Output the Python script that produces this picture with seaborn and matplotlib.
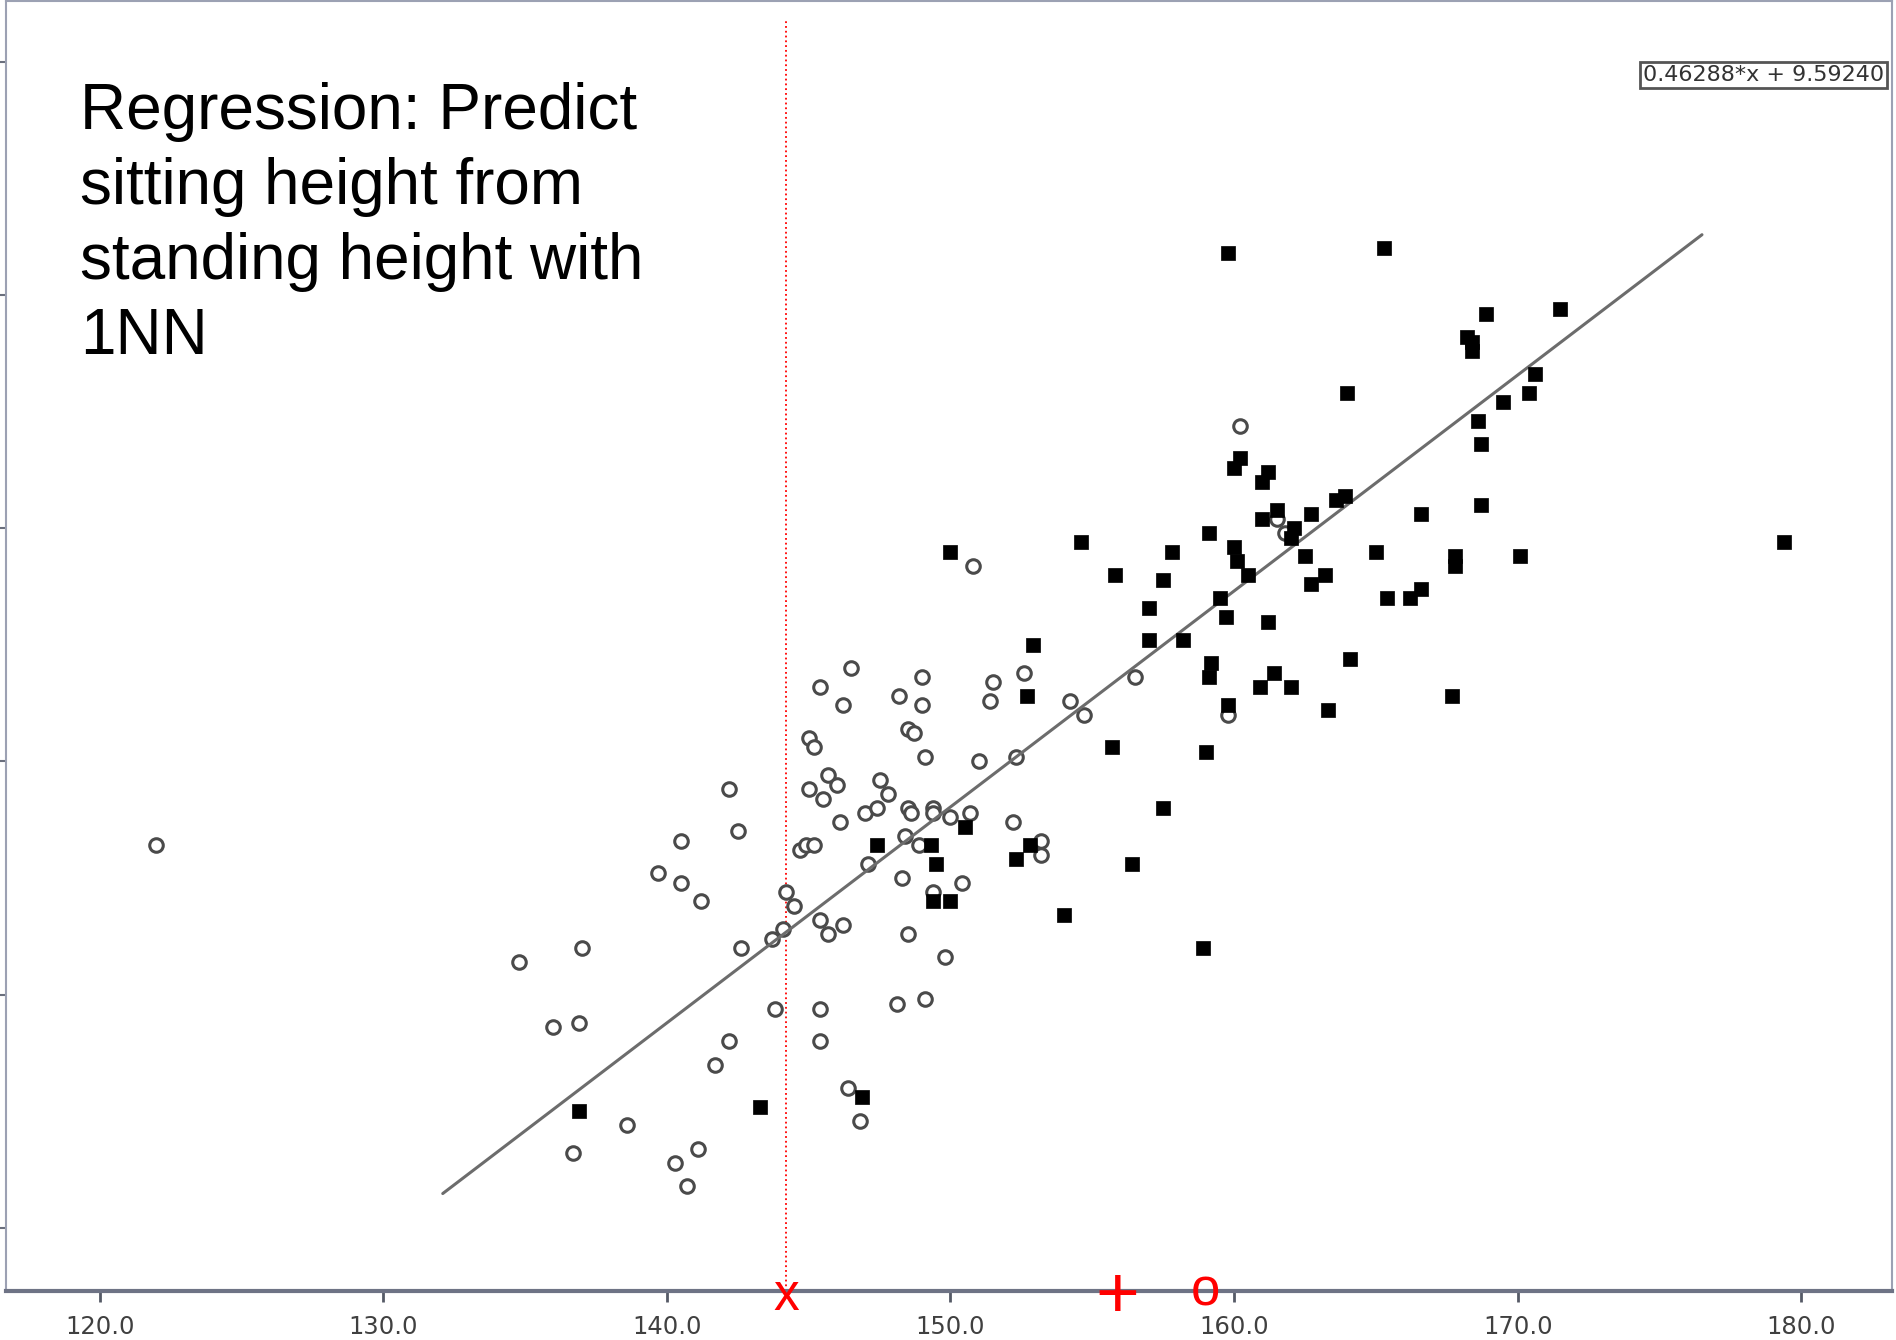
import matplotlib
matplotlib.use('Agg')
import matplotlib.pyplot as plt
import matplotlib.transforms as mtransforms
import seaborn as sns
import pandas as pd

# Open circles (standing height, sitting height)
circle_x = [122.0, 134.8, 136.0, 137.0, 136.9, 136.7, 138.6, 140.3, 140.7, 141.1,
            141.7, 142.2, 139.7, 140.5, 140.5, 141.2, 142.2, 142.5, 142.6, 143.8,
            143.7, 144.1, 144.2, 144.5, 144.7, 144.9, 145.2, 145.0, 145.2, 145.0,
            145.5, 145.7, 146.0, 146.1, 145.4, 146.2, 146.5, 145.4, 145.7, 146.2,
            145.4, 145.4, 146.4, 146.8, 147.1, 147.0, 147.4, 147.5, 147.8, 148.2,
            149.0, 149.0, 148.5, 148.7, 149.1, 148.4, 148.9, 148.3, 148.5, 148.1,
            149.1, 149.8, 148.5, 148.6, 149.4, 149.4, 150.0, 150.7, 150.4, 151.0,
            151.4, 151.5, 152.3, 152.6, 152.2, 153.2, 153.2, 154.2, 154.7, 156.5,
            159.8, 160.2, 150.8, 161.5, 161.8, 149.4]
circle_y = [78.2, 75.7, 74.3, 76.0, 74.4, 71.6, 72.2, 71.4, 70.9, 71.7,
            73.5, 74.0, 77.6, 78.3, 77.4, 77.0, 79.4, 78.5, 76.0, 74.7,
            76.2, 76.4, 77.2, 76.9, 78.1, 78.2, 78.2, 80.5, 80.3, 79.4,
            79.2, 79.7, 79.5, 78.7, 81.6, 81.2, 82.0, 76.6, 76.3, 76.5,
            74.7, 74.0, 73.0, 72.3, 77.8, 78.9, 79.0, 79.6, 79.3, 81.4,
            81.2, 81.8, 80.7, 80.6, 80.1, 78.4, 78.2, 77.5, 76.3, 74.8,
            74.9, 75.8, 79.0, 78.9, 79.0, 78.9, 78.8, 78.9, 77.4, 80.0,
            81.3, 81.7, 80.1, 81.9, 78.7, 78.3, 78.0, 81.3, 81.0, 81.8,
            81.0, 87.2, 84.2, 85.2, 84.9, 77.2]

# Filled squares
square_x = [136.9, 143.3, 146.9, 147.4, 149.3, 149.5, 150.5, 149.4, 150.0, 152.3,
            152.8, 154.0, 156.4, 157.5, 158.9, 159.0, 155.7, 152.7, 152.9, 150.0,
            154.6, 155.8, 157.0, 157.0, 157.5, 157.8, 158.2, 159.1, 159.2, 159.1,
            159.8, 159.5, 159.7, 160.0, 160.1, 160.5, 160.0, 160.2, 161.0, 161.2,
            161.0, 161.5, 162.1, 162.0, 162.7, 162.5, 162.7, 163.2, 163.3, 163.6,
            163.9, 164.1, 164.0, 159.8, 165.3, 165.0, 165.4, 166.2, 166.6, 166.6,
            167.7, 167.8, 167.8, 170.1, 168.7, 168.6, 168.7, 168.2, 168.4, 168.4,
            168.9, 169.5, 170.4, 170.6, 171.5, 179.4, 161.2, 161.4, 160.9, 162.0]
square_y = [72.5, 72.6, 72.8, 78.2, 78.2, 77.8, 78.6, 77.0, 77.0, 77.9,
            78.2, 76.7, 77.8, 79.0, 76.0, 80.2, 80.3, 81.4, 82.5, 84.5,
            84.7, 84.0, 83.3, 82.6, 83.9, 84.5, 82.6, 84.9, 82.1, 81.8,
            81.2, 83.5, 83.1, 84.6, 84.3, 84.0, 86.3, 86.5, 86.0, 86.2,
            85.2, 85.4, 85.0, 84.8, 85.3, 84.4, 83.8, 84.0, 81.1, 85.6,
            85.7, 82.2, 87.9, 90.9, 91.0, 84.5, 83.5, 83.5, 83.7, 85.3,
            81.4, 84.4, 84.2, 84.4, 85.5, 87.3, 86.8, 89.1, 89.0, 88.8,
            89.6, 87.7, 87.9, 88.3, 89.7, 84.7, 83.0, 81.9, 81.6, 81.6]

# Regression line y = slope * x + intercept
slope = 0.46288
intercept = 9.59240
line_x = [132.1, 176.5]

# 1NN illustration markers on the x axis
query_x = 144.2
pred_x = 155.9
nn_x = 159.0

x_ticks = [120, 130, 140, 150, 160, 170, 180]
y_ticks = [70, 75, 80, 85, 90, 95]
title_text = "Regression: Predict\nsitting height from\nstanding height with\n1NN"
equation_text = "0.46288*x + 9.59240"

sns.set_theme(style='white')
plt.rcParams['font.family'] = ['DejaVu Sans']

W, H = 1896, 1340
fig = plt.figure(figsize=(W / 100, H / 100), dpi=100)
ax = fig.add_axes([6 / W, 49 / H, 1886 / W, 1290 / H])

circles = pd.DataFrame({'x': circle_x, 'y': circle_y})
squares = pd.DataFrame({'x': square_x, 'y': square_y})
line_df = pd.DataFrame({'x': line_x, 'y': [slope * v + intercept for v in line_x]})

sns.scatterplot(data=circles, x='x', y='y', marker='o', s=95,
                facecolor='white', edgecolor='#4a4a4a', linewidth=2.2,
                ax=ax, zorder=2)
sns.lineplot(data=line_df, x='x', y='y', color='#6c6c6c', linewidth=2.2,
             ax=ax, zorder=3)
sns.scatterplot(data=squares, x='x', y='y', marker='s', s=105,
                color='black', edgecolor='black', linewidth=0.5,
                ax=ax, zorder=4)

ax.set_xlim(116.7, 183.2)
ax.set_ylim(68.65, 96.3)
ax.set_xlabel('')
ax.set_ylabel('')

ax.set_xticks(x_ticks)
ax.set_xticklabels([f"{v:.1f}" for v in x_ticks])
ax.set_yticks(y_ticks)
ax.set_yticklabels([])
ax.tick_params(axis='x', bottom=True, direction='out', length=8, width=2,
               color='#555a66', labelsize=17.5, labelcolor='#404040', pad=9)
ax.tick_params(axis='y', left=True, direction='out', length=5, width=1.5,
               color='#6a6f7d')

for s in ['left', 'right', 'top']:
    ax.spines[s].set_color('#9ca1b3')
    ax.spines[s].set_linewidth(1.5)
ax.spines['bottom'].set_color('#6e7385')
ax.spines['bottom'].set_linewidth(3)

# red dotted query line
ax.axvline(query_x, ymin=0, ymax=1 - 20 / 1290, color='red', linestyle=':',
           linewidth=1.3, zorder=1)

trans = mtransforms.blended_transform_factory(ax.transData, ax.transAxes)
ax.text(query_x, 0, 'x', transform=trans, ha='center', va='center_baseline',
        color='red', fontsize=37, family='Liberation Sans', clip_on=False, zorder=6)
ax.text(pred_x, 0, '+', transform=trans, ha='center', va='center_baseline',
        color='red', fontsize=54, family='Liberation Sans', clip_on=False, zorder=6)
ax.text(nn_x, 0.004, 'o', transform=trans, ha='center', va='center_baseline',
        color='red', fontsize=38, family='Liberation Sans', clip_on=False, zorder=6)

fig.text(80 / W, 1 - 82 / H, title_text, fontsize=46, family='Liberation Sans',
         ha='left', va='top', linespacing=1.32, color='black')

fig.text(1643 / W, 1 - 75 / H, equation_text, fontsize=16, ha='left', va='center',
         color='#333333',
         bbox=dict(boxstyle='square,pad=0.12', fc='white', ec='#555555', lw=2))

fig.savefig('out.png', dpi=100)
